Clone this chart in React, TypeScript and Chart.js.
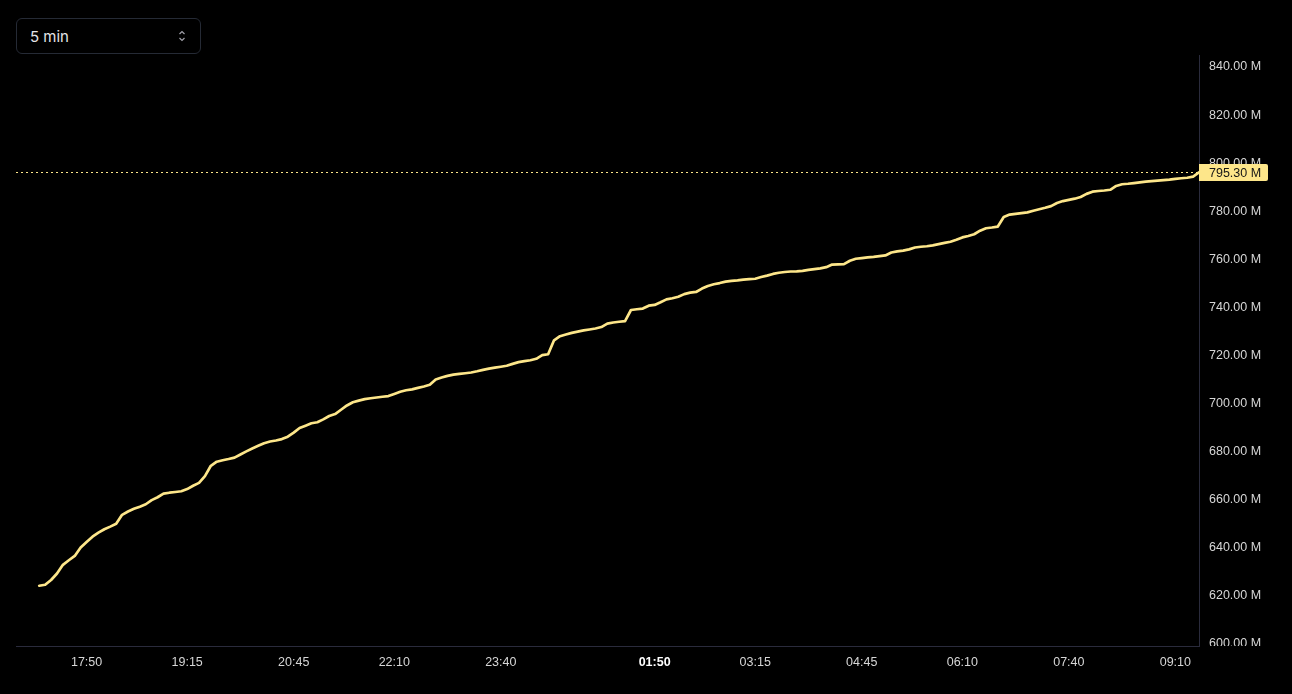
import React, { useEffect, useRef } from "react";
import { Chart, registerables } from "chart.js";

Chart.register(...registerables);

// 5-minute samples starting at 17:10
const values: number[] = [
  623.4, 623.8, 625.8, 628.5, 632.1, 634.0, 635.8, 639.3, 641.6, 643.8,
  645.5, 646.9, 648.0, 649.2, 652.9, 654.3, 655.4, 656.3, 657.3, 659.0,
  660.2, 661.7, 662.1, 662.4, 662.7, 663.6, 665.0, 666.2, 669.0, 673.3,
  675.0, 675.6, 676.1, 676.7, 678.0, 679.3, 680.5, 681.6, 682.7, 683.4,
  683.8, 684.4, 685.4, 687.1, 689.0, 690.0, 691.0, 691.4, 692.6, 694.0,
  694.8, 696.6, 698.4, 699.7, 700.4, 701.0, 701.4, 701.7, 702.0, 702.3,
  703.2, 704.1, 704.7, 705.1, 705.7, 706.3, 707.0, 709.2, 710.0, 710.7,
  711.2, 711.5, 711.8, 712.1, 712.6, 713.2, 713.7, 714.1, 714.5, 714.9,
  715.7, 716.4, 716.8, 717.2, 717.8, 719.3, 719.7, 725.5, 727.2, 727.9,
  728.6, 729.1, 729.6, 730.0, 730.4, 731.0, 732.4, 732.9, 733.2, 733.5,
  738.1, 738.4, 738.7, 739.9, 740.2, 741.3, 742.5, 743.0, 743.6, 744.7,
  745.3, 745.6, 747.0, 748.1, 748.8, 749.3, 749.9, 750.2, 750.4, 750.7,
  750.9, 751.1, 751.8, 752.4, 753.1, 753.6, 753.9, 754.1, 754.2, 754.4,
  754.8, 755.1, 755.4, 755.9, 757.0, 757.1, 757.2, 758.6, 759.4, 759.7,
  760.0, 760.2, 760.5, 760.8, 762.0, 762.5, 762.8, 763.3, 764.1, 764.4,
  764.6, 765.0, 765.5, 766.0, 766.5, 767.3, 768.3, 768.9, 769.6, 771.1,
  772.1, 772.4, 772.8, 776.8, 777.8, 778.1, 778.4, 778.7, 779.4, 780.0,
  780.6, 781.3, 782.6, 783.4, 783.9, 784.4, 785.1, 786.4, 787.3, 787.6,
  787.8, 788.1, 789.7, 790.4, 790.6, 790.9, 791.2, 791.5, 791.7, 791.9,
  792.1, 792.3, 792.6, 792.9, 793.1, 793.6, 795.3,
];

const tickIndices: number[] = [8, 25, 43, 60, 78, 104, 121, 139, 156, 174, 192];
const tickLabels: string[] = [
  "17:50", "19:15", "20:45", "22:10", "23:40", "01:50",
  "03:15", "04:45", "06:10", "07:40", "09:10",
];
const boldTickLabels: string[] = ["01:50"];
const yTickValues: number[] = [600, 620, 640, 660, 680, 700, 720, 740, 760, 780, 800, 820, 840];

const lastPrice = 795.3;
const lastPriceLabel = "795.30 M";
const intervalLabel = "5 min";

const LINE_COLOR = "#fde68a";
const AXIS_COLOR = "#2a2b3c";
const LABEL_COLOR = "#d6d6d6";
const FONT_FAMILY = "'Liberation Sans', Arial, sans-serif";

const W = 1292;
const H = 694;

export default function App() {
  const canvasRef = useRef<HTMLCanvasElement | null>(null);

  useEffect(() => {
    const canvas = canvasRef.current;
    if (!canvas) return;

    const pricePlugin = {
      id: "priceLine",
      beforeDraw(chart: any) {
        const { ctx, chartArea } = chart;
        ctx.save();
        ctx.beginPath();
        ctx.rect(0, 0, chart.width, chart.height);
        ctx.rect(chartArea.right + 1, chartArea.bottom, chart.width, chart.height);
        ctx.clip("evenodd");
      },
      beforeDatasetsDraw(chart: any) {
        const { ctx, chartArea, scales } = chart;
        const y = Math.round(scales.y.getPixelForValue(lastPrice)) + 0.5;
        ctx.save();
        ctx.strokeStyle = LINE_COLOR;
        ctx.lineWidth = 1;
        ctx.setLineDash([2, 3]);
        ctx.beginPath();
        ctx.moveTo(chartArea.left, y);
        ctx.lineTo(chartArea.right, y);
        ctx.stroke();
        ctx.restore();
      },
      afterDraw(chart: any) {
        const { ctx, chartArea, scales } = chart;
        ctx.restore();
        const y = scales.y.getPixelForValue(lastPrice);
        const x0 = chartArea.right;
        const bw = 69;
        const bh = 17;
        ctx.save();
        ctx.fillStyle = LINE_COLOR;
        ctx.beginPath();
        const r = 2;
        const top = y - bh / 2;
        ctx.moveTo(x0, top);
        ctx.lineTo(x0 + bw - r, top);
        ctx.quadraticCurveTo(x0 + bw, top, x0 + bw, top + r);
        ctx.lineTo(x0 + bw, top + bh - r);
        ctx.quadraticCurveTo(x0 + bw, top + bh, x0 + bw - r, top + bh);
        ctx.lineTo(x0, top + bh);
        ctx.closePath();
        ctx.fill();
        ctx.fillStyle = "#151515";
        ctx.font = "12.5px " + FONT_FAMILY;
        ctx.textBaseline = "middle";
        ctx.textAlign = "left";
        ctx.fillText(lastPriceLabel, x0 + 10, y + 1);
        ctx.restore();
      },
    };

    const isBold = (ctx: any) =>
      !!ctx.tick && boldTickLabels.includes(tickLabels[tickIndices.indexOf(ctx.tick.value)]);

    const chart = new Chart(canvas, {
      type: "line",
      data: {
        datasets: [
          {
            data: values.map((v, i) => ({ x: i, y: v })),
            borderColor: LINE_COLOR,
            borderWidth: 2.7,
            pointRadius: 0,
            tension: 0,
            borderJoinStyle: "round",
            borderCapStyle: "round",
            fill: false,
          },
        ],
      },
      options: {
        animation: false,
        responsive: false,
        devicePixelRatio: 1,
        layout: { padding: { left: 16, top: 55, right: 0, bottom: 0 } },
        plugins: {
          legend: { display: false },
          tooltip: { enabled: false },
        },
        scales: {
          x: {
            type: "linear",
            min: -3.93,
            max: 196,
            grid: { display: false, drawTicks: false },
            border: { display: true, color: AXIS_COLOR, width: 1 },
            afterBuildTicks: (scale: any) => {
              scale.ticks = tickIndices.map((v) => ({ value: v }));
            },
            afterFit: (scale: any) => {
              scale.height = 48;
            },
            ticks: {
              autoSkip: false,
              maxRotation: 0,
              padding: 9,
              callback: (val: any) => {
                const k = tickIndices.indexOf(Number(val));
                return k >= 0 ? tickLabels[k] : "";
              },
              color: (ctx: any) => (isBold(ctx) ? "#ffffff" : LABEL_COLOR),
              font: (ctx: any) => ({
                family: FONT_FAMILY,
                size: 12.5,
                weight: isBold(ctx) ? "bold" : "normal",
              }),
            },
          },
          y: {
            type: "linear",
            position: "right",
            min: 598.34,
            max: 844.16,
            grid: { display: false, drawTicks: false },
            border: { display: true, color: AXIS_COLOR, width: 1 },
            afterBuildTicks: (scale: any) => {
              scale.ticks = yTickValues.map((v) => ({ value: v }));
            },
            afterFit: (scale: any) => {
              scale.width = 93;
            },
            ticks: {
              padding: 10,
              labelOffset: 2,
              color: LABEL_COLOR,
              font: { family: FONT_FAMILY, size: 12.5 },
              callback: (val: any) => `${Number(val).toFixed(2)} M`,
            },
          },
        },
      },
      plugins: [pricePlugin],
    } as any);

    return () => {
      chart.destroy();
    };
  }, []);

  return (
    <div
      style={{
        position: "fixed",
        left: 0,
        top: 0,
        width: W,
        height: H,
        background: "#000000",
        overflow: "hidden",
      }}
    >
      <canvas
        ref={canvasRef}
        width={W}
        height={H}
        style={{ position: "absolute", left: 0, top: 0, width: W, height: H }}
      />
      <div
        style={{
          position: "absolute",
          left: 16,
          top: 18,
          width: 185,
          height: 36,
          boxSizing: "border-box",
          border: "1px solid #252a35",
          borderRadius: 6,
          display: "flex",
          alignItems: "center",
          justifyContent: "space-between",
          padding: "0 13px 0 13px",
          fontFamily: "Inter, 'Noto Sans', sans-serif",
          fontSize: 15,
          color: "#e4e4e7",
          background: "#000000",
        }}
      >
        <span>{intervalLabel}</span>
        <svg width="10" height="14" viewBox="0 0 10 14">
          <polyline points="2.5,5 5,2.5 7.5,5" fill="none" stroke="#a1a1aa" strokeWidth="1.2" />
          <polyline points="2.5,9 5,11.5 7.5,9" fill="none" stroke="#a1a1aa" strokeWidth="1.2" />
        </svg>
      </div>
    </div>
  );
}
